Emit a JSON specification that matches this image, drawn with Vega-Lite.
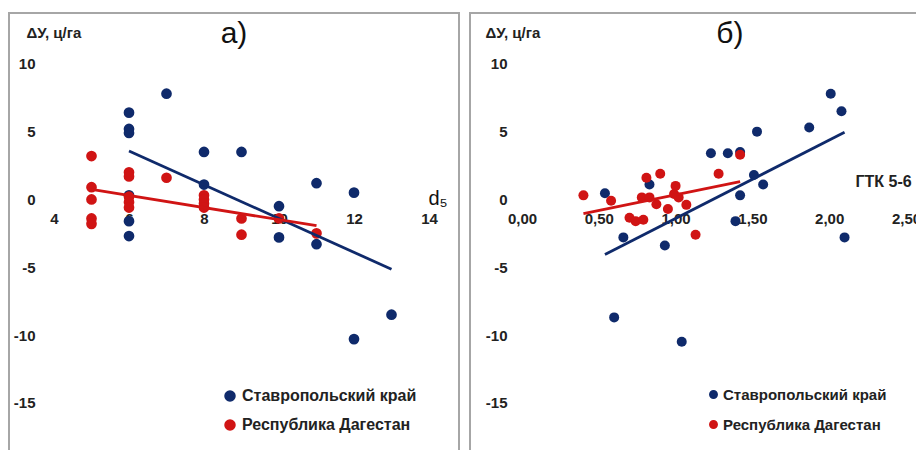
{
  "$schema": "https://vega.github.io/schema/vega-lite/v6.json",
  "padding": {"left": 8, "top": 12, "right": 0, "bottom": 0},
  "background": "white",
  "config": {
    "font": "Liberation Sans",
    "view": {"stroke": "#a6a6a6", "strokeWidth": 2},
    "axis": {
      "grid": false, "domain": false, "ticks": false, "tickSize": 0,
      "labelFont": "Liberation Sans", "labelFontWeight": "bold", "labelFontSize": 15, "labelColor": "#222222",
      "labelFlush": false, "labelOverlap": false,
      "titleFont": "Liberation Sans", "titleFontWeight": "bold", "titleFontSize": 15, "titleColor": "#222222"
    },
    "concat": {"spacing": 11}
  },
  "datasets": {
    "titles": [
      {"panel": "a", "label": "а)", "x": 8.8, "y": 11.54},
      {"panel": "b", "label": "б)", "x": 1.354, "y": 11.54}
    ],
    "panelA": [
      {"d5": 6, "dY": 6.4, "region": "Ставропольский край"},
      {"d5": 6, "dY": 5.2, "region": "Ставропольский край"},
      {"d5": 6, "dY": 4.9, "region": "Ставропольский край"},
      {"d5": 6, "dY": 0.3, "region": "Ставропольский край"},
      {"d5": 6, "dY": -1.6, "region": "Ставропольский край"},
      {"d5": 6, "dY": -2.7, "region": "Ставропольский край"},
      {"d5": 7, "dY": 7.8, "region": "Ставропольский край"},
      {"d5": 8, "dY": 3.5, "region": "Ставропольский край"},
      {"d5": 8, "dY": 1.1, "region": "Ставропольский край"},
      {"d5": 9, "dY": 3.5, "region": "Ставропольский край"},
      {"d5": 10, "dY": -0.5, "region": "Ставропольский край"},
      {"d5": 10, "dY": -2.8, "region": "Ставропольский край"},
      {"d5": 11, "dY": 1.2, "region": "Ставропольский край"},
      {"d5": 11, "dY": -3.3, "region": "Ставропольский край"},
      {"d5": 12, "dY": 0.5, "region": "Ставропольский край"},
      {"d5": 12, "dY": -10.3, "region": "Ставропольский край"},
      {"d5": 13, "dY": -8.5, "region": "Ставропольский край"},
      {"d5": 5, "dY": 3.2, "region": "Республика Дагестан"},
      {"d5": 5, "dY": 0.9, "region": "Республика Дагестан"},
      {"d5": 5, "dY": 0.0, "region": "Республика Дагестан"},
      {"d5": 5, "dY": -1.4, "region": "Республика Дагестан"},
      {"d5": 5, "dY": -1.8, "region": "Республика Дагестан"},
      {"d5": 6, "dY": 2.0, "region": "Республика Дагестан"},
      {"d5": 6, "dY": 1.7, "region": "Республика Дагестан"},
      {"d5": 6, "dY": 0.2, "region": "Республика Дагестан"},
      {"d5": 6, "dY": -0.2, "region": "Республика Дагестан"},
      {"d5": 6, "dY": -0.6, "region": "Республика Дагестан"},
      {"d5": 7, "dY": 1.6, "region": "Республика Дагестан"},
      {"d5": 8, "dY": 0.3, "region": "Республика Дагестан"},
      {"d5": 8, "dY": 0.0, "region": "Республика Дагестан"},
      {"d5": 8, "dY": -0.3, "region": "Республика Дагестан"},
      {"d5": 8, "dY": -0.6, "region": "Республика Дагестан"},
      {"d5": 9, "dY": -1.4, "region": "Республика Дагестан"},
      {"d5": 9, "dY": -2.6, "region": "Республика Дагестан"},
      {"d5": 10, "dY": -1.4, "region": "Республика Дагестан"},
      {"d5": 11, "dY": -2.5, "region": "Республика Дагестан"}
    ],
    "panelB": [
      {"gtk": 0.54, "dY": 0.45, "region": "Ставропольский край"},
      {"gtk": 0.83, "dY": 1.1, "region": "Ставропольский край"},
      {"gtk": 1.23, "dY": 3.4, "region": "Ставропольский край"},
      {"gtk": 1.34, "dY": 3.4, "region": "Ставропольский край"},
      {"gtk": 1.42, "dY": 3.5, "region": "Ставропольский край"},
      {"gtk": 1.53, "dY": 5.0, "region": "Ставропольский край"},
      {"gtk": 1.51, "dY": 1.8, "region": "Ставропольский край"},
      {"gtk": 1.57, "dY": 1.1, "region": "Ставропольский край"},
      {"gtk": 1.42, "dY": 0.3, "region": "Ставропольский край"},
      {"gtk": 1.39, "dY": -1.6, "region": "Ставропольский край"},
      {"gtk": 1.87, "dY": 5.3, "region": "Ставропольский край"},
      {"gtk": 2.01, "dY": 7.8, "region": "Ставропольский край"},
      {"gtk": 2.08, "dY": 6.5, "region": "Ставропольский край"},
      {"gtk": 2.1, "dY": -2.8, "region": "Ставропольский край"},
      {"gtk": 0.66, "dY": -2.8, "region": "Ставропольский край"},
      {"gtk": 0.93, "dY": -3.4, "region": "Ставропольский край"},
      {"gtk": 0.6, "dY": -8.7, "region": "Ставропольский край"},
      {"gtk": 1.04, "dY": -10.5, "region": "Ставропольский край"},
      {"gtk": 0.4, "dY": 0.3, "region": "Республика Дагестан"},
      {"gtk": 0.58, "dY": -0.1, "region": "Республика Дагестан"},
      {"gtk": 0.81, "dY": 1.6, "region": "Республика Дагестан"},
      {"gtk": 0.9, "dY": 1.9, "region": "Республика Дагестан"},
      {"gtk": 0.78, "dY": 0.15, "region": "Республика Дагестан"},
      {"gtk": 0.83, "dY": 0.15, "region": "Республика Дагестан"},
      {"gtk": 0.875, "dY": -0.35, "region": "Республика Дагестан"},
      {"gtk": 1.0, "dY": 1.0, "region": "Республика Дагестан"},
      {"gtk": 0.99, "dY": 0.4, "region": "Республика Дагестан"},
      {"gtk": 1.02, "dY": 0.15, "region": "Республика Дагестан"},
      {"gtk": 1.07, "dY": -0.4, "region": "Республика Дагестан"},
      {"gtk": 0.95, "dY": -0.7, "region": "Республика Дагестан"},
      {"gtk": 0.7, "dY": -1.35, "region": "Республика Дагестан"},
      {"gtk": 0.74, "dY": -1.6, "region": "Республика Дагестан"},
      {"gtk": 0.79, "dY": -1.5, "region": "Республика Дагестан"},
      {"gtk": 1.13, "dY": -2.6, "region": "Республика Дагестан"},
      {"gtk": 1.28, "dY": 1.9, "region": "Республика Дагестан"},
      {"gtk": 1.42, "dY": 3.3, "region": "Республика Дагестан"}
    ]
  },
  "bounds": "flush",
  "resolve": {"scale": {"color": "independent", "x": "independent", "y": "independent"}, "legend": {"color": "independent"}},
  "hconcat": [
    {
      "width": 450,
      "height": 440,
      "layer": [
        {
          "mark": {"type": "rule", "color": "#d9d9d9", "strokeWidth": 1.5},
          "encoding": {"x": {"datum": 4, "type": "quantitative"}, "y": {"datum": -15, "type": "quantitative"}, "y2": {"datum": 10}}
        },
        {
          "mark": {"type": "rule", "color": "#d9d9d9", "strokeWidth": 1.5},
          "encoding": {"y": {"datum": 0, "type": "quantitative"}, "x": {"datum": 4, "type": "quantitative"}, "x2": {"datum": 14}}
        },
        {
          "data": {"name": "titles"},
          "transform": [{"filter": "datum.panel == 'a'"}],
          "mark": {"type": "text", "fontSize": 30, "fontWeight": "normal", "color": "#111111", "align": "center", "baseline": "alphabetic", "font": "Liberation Sans", "clip": false},
          "encoding": {"x": {"field": "x", "type": "quantitative"}, "y": {"field": "y", "type": "quantitative"}, "text": {"field": "label"}}
        },
        {
          "data": {"name": "panelA"},
          "mark": {"type": "point", "filled": true, "opacity": 1, "size": 115, "shape": "circle"},
          "encoding": {
            "x": {
              "field": "d5", "type": "quantitative",
              "scale": {"domain": [2.8, 14.8], "nice": false, "zero": false},
              "axis": {"orient": "bottom", "offset": -253.5, "values": [4, 6, 8, 10, 12, 14], "labelPadding": 12,
                "title": "d₅", "titleX": 419, "titleY": 5, "titleAlign": "left", "titleBaseline": "alphabetic", "titleAngle": 0,
                "titleFontSize": 20, "titleFontWeight": "normal", "titleColor": "#111111"}
            },
            "y": {
              "field": "dY", "type": "quantitative",
              "scale": {"domain": [-18.7, 13.75], "nice": false, "zero": false},
              "axis": {"orient": "left", "offset": -45, "values": [-15, -10, -5, 0, 5, 10], "labelPadding": 19,
                "labelExpr": "datum.value < 0 ? '-' + abs(datum.value) : '' + datum.value",
                "title": "ΔУ, ц/га", "titleAngle": 0, "titleX": -28, "titleY": 24, "titleAlign": "left", "titleBaseline": "alphabetic"}
            },
            "color": {
              "field": "region", "type": "nominal",
              "scale": {"domain": ["Ставропольский край", "Республика Дагестан"], "range": ["#0f2a6b", "#d01414"]},
              "legend": {"orient": "none", "legendX": 213, "legendY": 375, "title": null, "padding": 0,
                "labelFontSize": 16, "labelFontWeight": "bold", "labelColor": "#222222", "labelFont": "Liberation Sans", "labelLimit": 0,
                "symbolSize": 100, "symbolType": "circle", "rowPadding": 13, "labelOffset": 4}
            }
          }
        },
        {
          "data": {"name": "panelA"},
          "transform": [{"regression": "dY", "on": "d5", "groupby": ["region"]}],
          "mark": {"type": "line", "strokeWidth": 2.8},
          "encoding": {
            "x": {"field": "d5", "type": "quantitative"},
            "y": {"field": "dY", "type": "quantitative"},
            "color": {"field": "region", "type": "nominal", "legend": null}
          }
        }
      ]
    },
    {
      "width": 460,
      "height": 440,
      "layer": [
        {
          "mark": {"type": "rule", "color": "#d9d9d9", "strokeWidth": 1.5},
          "encoding": {"x": {"datum": 0, "type": "quantitative"}, "y": {"datum": -15, "type": "quantitative"}, "y2": {"datum": 10}}
        },
        {
          "mark": {"type": "rule", "color": "#d9d9d9", "strokeWidth": 1.5},
          "encoding": {"y": {"datum": 0, "type": "quantitative"}, "x": {"datum": 0, "type": "quantitative"}, "x2": {"datum": 2.5}}
        },
        {
          "data": {"name": "titles"},
          "transform": [{"filter": "datum.panel == 'b'"}],
          "mark": {"type": "text", "fontSize": 30, "fontWeight": "normal", "color": "#111111", "align": "center", "baseline": "alphabetic", "font": "Liberation Sans", "clip": false},
          "encoding": {"x": {"field": "x", "type": "quantitative"}, "y": {"field": "y", "type": "quantitative"}, "text": {"field": "label"}}
        },
        {
          "data": {"name": "panelB"},
          "mark": {"type": "point", "filled": true, "opacity": 1, "size": 100, "shape": "circle"},
          "encoding": {
            "x": {
              "field": "gtk", "type": "quantitative",
              "scale": {"domain": [-0.3385, 2.6563], "nice": false, "zero": false},
              "axis": {"orient": "bottom", "offset": -253.5, "values": [0, 0.5, 1, 1.5, 2, 2.5], "labelPadding": 12,
                "labelExpr": "replace(format(datum.value, '.2f'), '.', ',')",
                "title": "ГТК 5-6", "titleX": 385, "titleY": -13, "titleAlign": "left", "titleBaseline": "alphabetic", "titleAngle": 0,
                "titleFontSize": 16}
            },
            "y": {
              "field": "dY", "type": "quantitative",
              "scale": {"domain": [-18.7, 13.75], "nice": false, "zero": false},
              "axis": {"orient": "left", "offset": -52, "values": [-15, -10, -5, 0, 5, 10], "labelPadding": 15,
                "labelExpr": "datum.value < 0 ? '-' + abs(datum.value) : '' + datum.value",
                "title": "ΔУ, ц/га", "titleAngle": 0, "titleX": -37, "titleY": 24, "titleAlign": "left", "titleBaseline": "alphabetic"}
            },
            "color": {
              "field": "region", "type": "nominal",
              "scale": {"domain": ["Ставропольский край", "Республика Дагестан"], "range": ["#0f2a6b", "#d01414"]},
              "legend": {"orient": "none", "legendX": 236, "legendY": 374, "title": null, "padding": 0,
                "labelFontSize": 15, "labelFontWeight": "bold", "labelColor": "#222222", "labelFont": "Liberation Sans", "labelLimit": 0,
                "symbolSize": 55, "symbolType": "circle", "rowPadding": 14, "labelOffset": 2}
            }
          }
        },
        {
          "data": {"name": "panelB"},
          "transform": [{"regression": "dY", "on": "gtk", "groupby": ["region"]}],
          "mark": {"type": "line", "strokeWidth": 2.8},
          "encoding": {
            "x": {"field": "gtk", "type": "quantitative"},
            "y": {"field": "dY", "type": "quantitative"},
            "color": {"field": "region", "type": "nominal", "legend": null}
          }
        }
      ]
    }
  ]
}
